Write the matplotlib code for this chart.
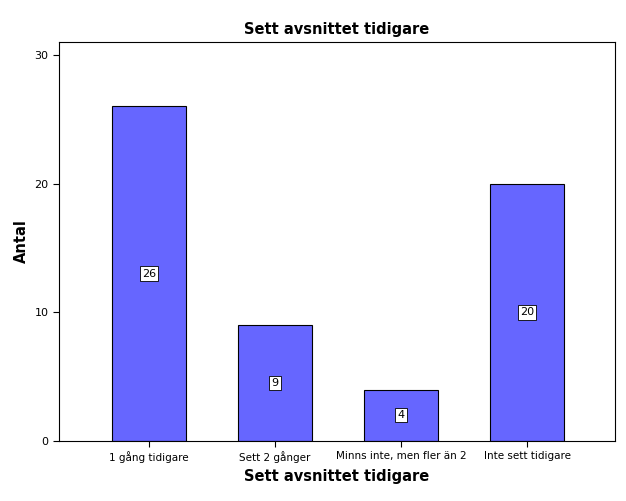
import matplotlib
matplotlib.use("Agg")
import matplotlib.pyplot as plt

categories = ["1 gång tidigare", "Sett 2 gånger", "Minns inte, men fler än 2", "Inte sett tidigare"]
counts = [26, 9, 4, 20]
yticks = [0, 10, 20, 30]

fig = plt.figure(figsize=(6.26, 5.01), dpi=100)
ax = fig.add_axes([59/626, 60/501, 556/626, 399/501])
x = list(range(len(categories)))
ax.bar(x, counts, width=0.587, color="#6666ff", edgecolor="black", linewidth=0.8)
for xi, v in zip(x, counts):
    ax.text(xi, v/2, str(v), ha="center", va="center", fontsize=8,
            bbox=dict(boxstyle="square,pad=0.2", fc="white", ec="black", lw=0.6))
ax.set_xlim(-0.714, 3.698)
ax.set_ylim(0, 31)
ax.set_yticks(yticks)
ax.set_xticks(x)
ax.set_xticklabels(categories, fontsize=7.5)
ax.tick_params(axis="y", labelsize=8, length=4)
ax.tick_params(axis="x", length=4)
ax.set_ylabel("Antal", fontsize=10.5, fontweight="bold")
ax.set_xlabel("Sett avsnittet tidigare", fontsize=10.5, fontweight="bold")
ax.set_title("Sett avsnittet tidigare", fontsize=10.5, fontweight="bold", pad=6)
for s in ax.spines.values():
    s.set_linewidth(0.8)
fig.savefig("out.png", dpi=100)
